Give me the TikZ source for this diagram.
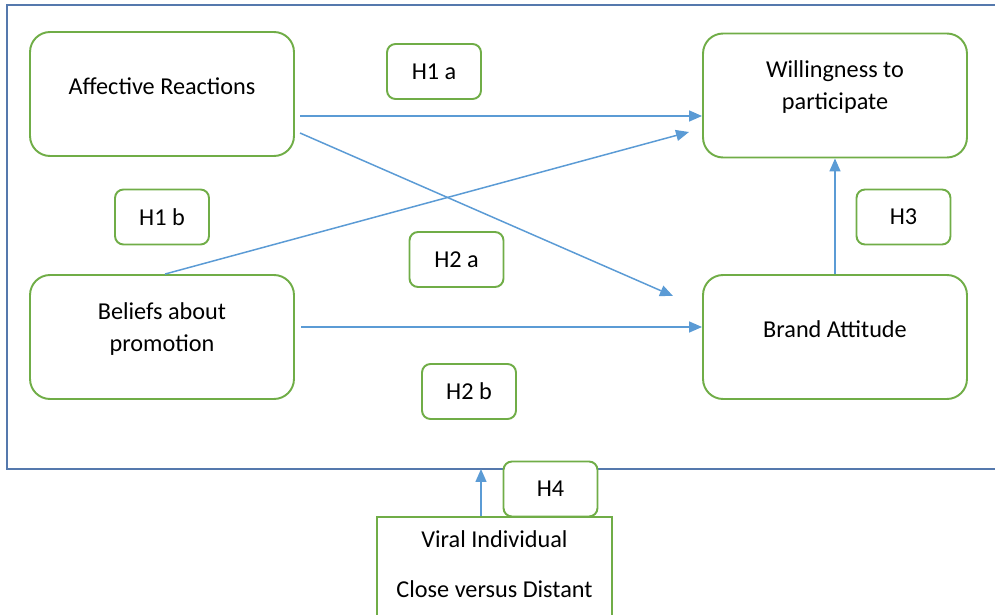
\documentclass[tikz,border=0pt]{standalone}
\usepackage{fontspec}
\setmainfont{Carlito}
\usetikzlibrary{arrows.meta,calc}
\definecolor{boxgreen}{RGB}{112,173,71}
\definecolor{arrowblue}{RGB}{91,155,213}
\definecolor{frameblue}{RGB}{85,121,173}

\begin{document}
\begin{tikzpicture}[
        x=0.02cm, y=-0.02cm,
        factor/.style={rectangle, draw=boxgreen, line width=1.1pt, rounded corners=0.4cm, minimum width=5.28cm, minimum height=2.48cm},
        factor_text/.style={align=center, font=\fontsize{13.8}{18}\selectfont},
        hyp/.style={rectangle, draw=boxgreen, fill=white, line width=1.1pt, rounded corners=0.17cm, minimum width=1.88cm, minimum height=1.1cm, font=\fontsize{13.8}{18}\selectfont},
        moderator/.style={rectangle, draw=boxgreen, fill=white, line width=1.1pt, minimum width=4.7cm, minimum height=2.04cm},
        link/.style={draw=arrowblue, line width=0.85pt, -{Triangle[length=0.26cm, width=0.22cm]}}
    ]
        \useasboundingbox (0,0) rectangle (995,615);

        % outer frame (open on the right)
        \draw[frameblue, line width=1.1pt] (995,5) -| (7,469) -- (995,469);
        \coordinate (frame_bottom) at (481,469);

        % Constructs
        \node[factor] (affect) at (162,94) {};
        \node[factor_text] (affect_text) at (162,86) {Affective Reactions};
        \node[factor] (willing) at (835,95.5) {};
        \node[factor_text] (willing_text) at (835,87) {Willingness to\\participate};
        \node[factor] (beliefs) at (162,337) {};
        \node[factor_text] (beliefs_text) at (162,329) {Beliefs about\\promotion};
        \node[factor] (brand) at (835,337) {};
        \node[factor_text] (brand_text) at (835,329.5) {Brand Attitude};

        % Paths
        \coordinate (affect_out1) at (300,116);
        \coordinate (affect_out2) at (300,133);
        \coordinate (brand_in) at (673,296);
        \coordinate (willing_in) at (689,132);
        \coordinate (beliefs_out2) at (301,327);
        \draw[link] (affect_out1) -- (affect_out1 -| willing.west);
        \draw[link] (affect_out2) -- (brand_in);
        \draw[link] ($(beliefs.north)+(3,0)$) -- (willing_in);
        \draw[link] (beliefs_out2) -- (beliefs_out2 -| brand.west);
        \draw[link] (brand.north) -- (willing.south);

        % Hypotheses
        \node[hyp] (h1a) at (434,71.5) {H1 a};
        \node[hyp] (h1b) at (162,217) {H1 b};
        \node[hyp] (h2a) at (456.5,259.5) {H2 a};
        \node[hyp] (h2b) at (469,391.5) {H2 b};
        \node[hyp] (h3) at (903.5,217) {H3};
        \node[hyp] (h4) at (550.5,489) {H4};

        % Moderator
        \node[moderator] (viral) at (494.5,568) {};
        \node[factor_text, font=\fontsize{13.8}{28.4}\selectfont] (viral_text) at (494.5,564) {Viral Individual\\Close versus Distant};
        \draw[link] (viral.north -| frame_bottom) -- (frame_bottom);

    \end{tikzpicture}
\end{document}
